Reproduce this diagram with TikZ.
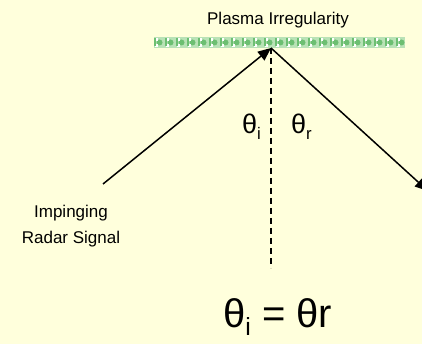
\documentclass[tikz,border=0pt]{standalone}
\usepackage{fontspec}
\setmainfont{Liberation Sans}
\usepackage{tikz}
\usetikzlibrary{arrows.meta,positioning,calc}
\definecolor{Paper}{HTML}{FFFFDC}
\definecolor{Leaf}{HTML}{6DBF72}
\definecolor{LeafPale}{HTML}{B9E2B6}
\newcommand{\lowsub}[1]{\raisebox{-0.22em}{\scalebox{0.62}{#1}}}
\tikzset{
  ray/.style={-{Triangle[length=13pt,width=11pt]},line width=1.5pt,draw=black},
  normal/.style={line width=1.5pt,dash pattern=on 6pt off 4pt},
  lbl/.style={font=\fontsize{17}{26}\selectfont,align=center,inner sep=0pt},
  ang/.style={font=\fontsize{27}{30}\selectfont,inner sep=0pt,anchor=base west},
  eqn/.style={font=\fontsize{40}{44}\selectfont,inner sep=0pt,anchor=base west}
}

\begin{document}
\begin{tikzpicture}[x=1pt,y=-1pt]
  \clip (0,0) rectangle (422,344);
  \fill[Paper] (0,0) rectangle (422,344);
  % irregularity bar
  \fill[LeafPale] (154,37) rectangle (405,48);
  \foreach \i in {0,...,22}{
    \fill[Leaf] ($(159.5,42.5)+(\i*11,0)$) circle (3pt);
    \fill[white] ($(154.5,38)+(\i*11,0)$) rectangle ++(3,3);
    \fill[white] ($(154.5,44)+(\i*11,0)$) rectangle ++(3,3);
    \fill[Leaf] ($(154,38.5)+(\i*11,0)$) rectangle ++(1.5,8);
  }
  \node[lbl,anchor=base] (plasma) at (278,25) {Plasma Irregularity};
  % rays
  \coordinate (apex) at (271,48);
  \coordinate (src) at (103,184);
  \coordinate (dst) at (428,191);
  \coordinate (foot) at (271,268);
  \draw[normal] (apex) -- (foot);
  \draw[ray] (src) -- (apex);
  \draw[ray] (apex) -- (dst);
  \node[lbl,anchor=north] (radar) at (71,205) {Impinging\\Radar Signal};
  \node[ang] (thi) at (242,134) {θ\lowsub{i}};
  \node[ang] (thr) at (291,134) {θ\lowsub{r}};
  \node[eqn] (eq) at (223,327) {θ\lowsub{i} = θr};
\end{tikzpicture}
\end{document}
